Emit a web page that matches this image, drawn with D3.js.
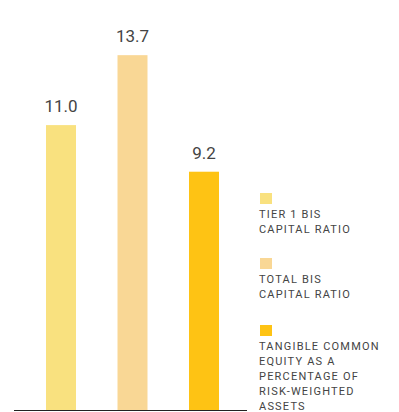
<!DOCTYPE html>
<html><head><meta charset="utf-8">
<script src="https://cdn.jsdelivr.net/npm/d3@7"></script>
<style>body{margin:0;background:#fff}svg{display:block}</style>
</head><body>
<script>
const categories = ["Tier 1 BIS capital ratio", "Total BIS capital ratio", "Tangible common equity as a percentage of risk-weighted assets"];
const values = [11.0, 13.7, 9.2];
const valueLabels = ["11.0", "13.7", "9.2"];
const colors = ["#f9e17f", "#f9d795", "#fec314"];
const legendLines = [
  ["TIER 1 BIS", "CAPITAL RATIO"],
  ["TOTAL BIS", "CAPITAL RATIO"],
  ["TANGIBLE COMMON", "EQUITY AS A", "PERCENTAGE OF", "RISK-WEIGHTED", "ASSETS"]
];

const W = 399, H = 412;
const svg = d3.select("body").append("svg").attr("width", W).attr("height", H);

const x = d3.scaleBand().domain(categories).range([16, 249]).paddingInner(0.5804).paddingOuter(0.4196);
const y = d3.scaleLinear().domain([0, 14]).range([410, 47.4]);

svg.selectAll("rect.bar").data(values).join("rect")
  .attr("class", "bar")
  .attr("x", (d, i) => x(categories[i]))
  .attr("width", x.bandwidth())
  .attr("y", d => y(d))
  .attr("height", d => y(0) - y(d))
  .attr("fill", (d, i) => colors[i]);

svg.selectAll("text.val").data(values).join("text")
  .attr("class", "val")
  .attr("x", (d, i) => x(categories[i]) + x.bandwidth() / 2)
  .attr("y", d => y(d) - 13)
  .attr("text-anchor", "middle")
  .attr("font-family", "Roboto, sans-serif")
  .attr("font-size", 17)
  .attr("fill", "#444")
  .text((d, i) => valueLabels[i]);

svg.append("line")
  .attr("x1", 14).attr("x2", 247)
  .attr("y1", y(0) + 0.5).attr("y2", y(0) + 0.5)
  .attr("stroke", "#222").attr("stroke-width", 1);

const legendTop = [193, 258, 325];
const lg = svg.selectAll("g.leg").data(legendLines).join("g")
  .attr("class", "leg")
  .attr("transform", (d, i) => `translate(260,${legendTop[i]})`);
lg.append("rect").attr("width", 12).attr("height", 11).attr("fill", (d, i) => colors[i]);
lg.each(function(lines) {
  const g = d3.select(this);
  lines.forEach((t, j) => {
    g.append("text")
      .attr("x", -1)
      .attr("y", 25.3 + j * 15)
      .attr("font-family", "Roboto, sans-serif")
      .attr("font-size", 11)
      .attr("letter-spacing", "1.2px")
      .attr("fill", "#444")
      .text(t);
  });
});
</script>
</body></html>
